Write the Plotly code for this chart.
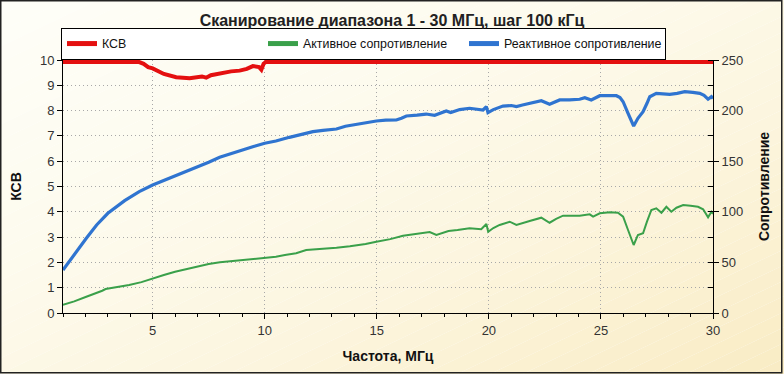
import plotly.graph_objects as go

# ---- data ----
ksv_f = [1.0, 4.4, 4.6, 4.8, 5.0, 5.5, 6.05, 6.65, 7.2, 7.39, 7.6, 7.99, 8.5, 8.88, 9.2, 9.47, 9.75, 9.85, 9.95, 10.05, 30.0]
ksv_v = [9.92, 9.92, 9.85, 9.72, 9.67, 9.45, 9.32, 9.28, 9.35, 9.30, 9.40, 9.48, 9.55, 9.58, 9.65, 9.76, 9.72, 9.62, 9.85, 9.92, 9.92]

act_f = [1.0, 1.5, 2.04, 2.5, 2.75, 2.9, 3.3, 3.95, 4.5, 5.0, 5.5, 6.0, 6.5, 7.0, 7.5, 8.0, 8.5, 9.0, 9.5, 10.0,
         10.5, 10.9, 11.4, 11.85, 12.5, 13.2, 13.8, 14.5, 14.98, 15.6, 16.17, 16.8, 17.36, 17.66, 18.2, 18.6, 19.14,
         19.66, 19.89, 19.97, 20.2, 20.48, 20.93, 21.23, 21.5, 21.82, 22.34, 22.71, 23.0, 23.31, 23.7, 24.05, 24.5,
         24.65, 24.95, 25.4, 25.76, 25.99, 26.21, 26.46, 26.65, 26.88, 27.05, 27.25, 27.47, 27.7, 27.92, 28.14,
         28.37, 28.67, 29.0, 29.33, 29.56, 29.78, 29.93, 30.0]
act_v = [8.0, 11.5, 16.1, 19.5, 22.0, 23.7, 25.0, 27.7, 30.5, 34.3, 37.5, 40.8, 43.5, 45.8, 48.5, 50.1, 51.2, 52.4, 53.0, 54.0,
         55.5, 57.3, 59.0, 62.2, 63.2, 64.5, 66.0, 68.2, 70.5, 73.0, 76.4, 78.0, 80.0, 77.1, 81.0, 82.0, 83.7,
         82.7, 88.0, 80.3, 84.0, 87.0, 90.2, 87.0, 88.5, 90.9, 94.2, 89.2, 93.0, 96.2, 96.0, 96.2, 97.5,
         95.2, 98.5, 99.5, 99.1, 95.2, 82.0, 67.2, 77.1, 78.8, 90.0, 101.8, 103.5, 99.1, 105.0, 100.1,
         104.0, 106.7, 106.0, 105.0, 102.5, 94.6, 100.1, 98.0]

react_f = [1.0, 1.5, 2.04, 2.5, 3.0, 3.75, 4.4, 5.0, 5.5, 5.98, 6.5, 7.0, 7.5, 7.99, 8.5, 8.95, 9.5, 10.0, 10.5,
           11.1, 11.6, 12.15, 12.6, 13.2, 13.6, 14.09, 14.5, 14.98, 15.4, 15.87, 16.1, 16.32, 16.8, 17.2, 17.58,
           17.9, 18.1, 18.3, 18.7, 19.14, 19.5, 19.74, 19.89, 19.96, 20.2, 20.63, 21.0, 21.23, 21.5, 21.82, 22.1,
           22.34, 22.71, 23.0, 23.16, 23.6, 24.05, 24.28, 24.57, 24.95, 25.3, 25.69, 25.85, 25.99, 26.21, 26.46,
           26.65, 26.88, 27.05, 27.18, 27.47, 27.8, 28.07, 28.4, 28.74, 29.1, 29.41, 29.6, 29.78, 29.93, 30.0]
react_v = [42.5, 58.0, 73.8, 87.0, 98.5, 111.0, 120.0, 126.5, 131.0, 134.7, 140.0, 144.6, 149.0, 153.8, 157.5, 161.0, 164.5, 167.7, 170.0,
           173.6, 176.5, 179.2, 180.5, 181.8, 184.5, 186.5, 188.0, 189.7, 190.5, 190.7, 192.5, 194.7, 195.5, 196.6, 195.3,
           198.0, 199.6, 198.0, 201.0, 202.3, 201.5, 200.6, 203.9, 198.0, 201.0, 204.5, 205.0, 203.9, 205.5, 207.2, 208.5,
           209.8, 206.2, 209.0, 210.5, 210.5, 211.2, 212.8, 210.5, 214.7, 215.0, 214.7, 213.0, 208.8, 197.3, 184.8,
           192.4, 198.9, 207.0, 213.7, 217.1, 216.5, 216.1, 217.0, 218.7, 218.0, 217.1, 215.0, 211.2, 213.7, 212.0]

x_ticks = [5, 10, 15, 20, 25, 30]
ksv_ticks = list(range(0, 11))
res_ticks = [0, 50, 100, 150, 200, 250]

title_text = "Сканирование диапазона 1 - 30 МГц, шаг 100 кГц"
FONT = "Liberation Sans, Arial, sans-serif"

# ---- figure geometry ----
W, H = 784, 374
ML, MR, MT, MB = 63, 71, 60, 61
PW, PH = W - ML - MR, H - MT - MB


def px_x(X):
    return (X - ML) / PW


def px_y(Y):
    return 1 - (Y - MT) / PH


# diagonal cream gradient background made of thin strips
stops = [(0.0, (254, 254, 248)), (0.35, (253, 251, 238)), (0.65, (252, 245, 222)), (1.0, (249, 236, 196))]


def grad(t):
    for (t0, c0), (t1, c1) in zip(stops[:-1], stops[1:]):
        if t <= t1:
            u = (t - t0) / (t1 - t0)
            return "rgb(%d,%d,%d)" % tuple(round(a + (b - a) * u) for a, b in zip(c0, c1))
    return "rgb(%d,%d,%d)" % stops[-1][1]


shapes = []
N = 48
XL, XR = -20, W + 20
for i in range(N):
    ta, tb = i / N, (i + 1) / N
    if i == 0:
        ta = -0.2
    if i == N - 1:
        tb = 1.2
    pts = [(XL, H * (2 * ta - XL / W)), (XR, H * (2 * ta - XR / W)),
           (XR, H * (2 * tb - XR / W)), (XL, H * (2 * tb - XL / W))]
    path = "M " + " L ".join("%.5f,%.5f" % (px_x(X), px_y(Y)) for X, Y in pts) + " Z"
    shapes.append(dict(type="path", path=path, xref="paper", yref="paper",
                       fillcolor=grad((i + 0.5) / N), line=dict(width=0), layer="below"))
# outer frame
shapes.append(dict(type="rect", xref="paper", yref="paper",
                   x0=px_x(0.75), x1=px_x(781.75), y0=px_y(0.75), y1=px_y(372.75),
                   line=dict(color="#222222", width=1.5), fillcolor="rgba(0,0,0,0)", layer="below"))

fig = go.Figure()
fig.add_trace(go.Scatter(x=ksv_f, y=ksv_v, name="КСВ", mode="lines",
                         line=dict(color="#e41010", width=4), yaxis="y"))
fig.add_trace(go.Scatter(x=act_f, y=act_v, name="Активное сопротивление", mode="lines",
                         line=dict(color="#3aa04a", width=2), yaxis="y2"))
fig.add_trace(go.Scatter(x=react_f, y=react_v, name="Реактивное сопротивление", mode="lines",
                         line=dict(color="#2f74d0", width=3.2), yaxis="y2"))

tickfont = dict(family=FONT, size=13, color="#333333")
titlefont = dict(family=FONT, size=14, color="#111111")
GRID = dict(showgrid=True, gridcolor="#a8a8a8", griddash="1px,3px", gridwidth=1)

fig.update_layout(
    width=W, height=H,
    margin=dict(l=ML, r=MR, t=MT, b=MB, pad=0),
    paper_bgcolor="#ffffff",
    plot_bgcolor="rgba(0,0,0,0)",
    font=dict(family=FONT, color="#333333"),
    showlegend=True,
    shapes=shapes,
    title=dict(text="<b>" + title_text + "</b>", x=0.5, xref="container", xanchor="center",
               y=1 - 20 / H, yref="container", yanchor="middle",
               font=dict(family=FONT, size=16, color="#222222")),
    legend=dict(orientation="h", x=-2 / PW, xanchor="left", y=1 + 16 / PH, yanchor="middle",
                bgcolor="#ffffff", bordercolor="#000000", borderwidth=1,
                font=dict(family=FONT, size=12.4, color="#111111"),
                itemwidth=30, entrywidth=156, entrywidthmode="pixels",
                tracegroupgap=0, itemsizing="constant"),
    xaxis=dict(range=[1, 30], tickvals=x_ticks, showline=True, linecolor="#000000", linewidth=1,
               ticks="outside", ticklen=5, tickcolor="#000000", tickfont=tickfont,
               minor=dict(dtick=1, tick0=0, ticks="outside", ticklen=3, tickcolor="#000000", showgrid=False),
               zeroline=False, **GRID,
               title=dict(text="<b>Частота, МГц</b>", font=titlefont, standoff=14),
               mirror=False),
    xaxis2=dict(range=[1, 30], overlaying="x", anchor="y", side="bottom", tickvals=x_ticks,
                ticks="inside", ticklen=5, tickcolor="#000000", showticklabels=False,
                minor=dict(dtick=1, tick0=0, ticks="inside", ticklen=2, tickcolor="#000000"),
                showgrid=False, showline=False, zeroline=False),
    yaxis=dict(range=[0, 10], tickvals=ksv_ticks, showline=True, linecolor="#000000", linewidth=1,
               ticks="outside", ticklen=5, tickcolor="#000000", tickfont=tickfont,
               zeroline=False, **GRID,
               title=dict(text="<b>КСВ</b>", font=titlefont, standoff=15)),
    yaxis2=dict(range=[0, 250], tickvals=res_ticks, overlaying="y", side="right", anchor="x",
                showline=True, linecolor="#000000", linewidth=1,
                ticks="outside", ticklen=5, tickcolor="#000000", tickfont=tickfont,
                minor=dict(dtick=25, tick0=0, ticks="inside", ticklen=5, tickcolor="#000000"),
                showgrid=False, zeroline=False,
                title=dict(text="<b>Сопротивление</b>", font=titlefont, standoff=16)),
    yaxis3=dict(range=[0, 10], overlaying="y", anchor="x", side="left", tickvals=ksv_ticks,
                ticks="inside", ticklen=4, tickcolor="#000000", showticklabels=False,
                showgrid=False, showline=False, zeroline=False),
    yaxis4=dict(range=[0, 250], overlaying="y", anchor="x", side="right", tickvals=res_ticks,
                ticks="inside", ticklen=5, tickcolor="#000000", showticklabels=False,
                showgrid=False, showline=False, zeroline=False),
)

fig.write_html("out.html", config={"displayModeBar": False},
               post_script="document.body.style.margin='0';document.body.style.padding='0';")
